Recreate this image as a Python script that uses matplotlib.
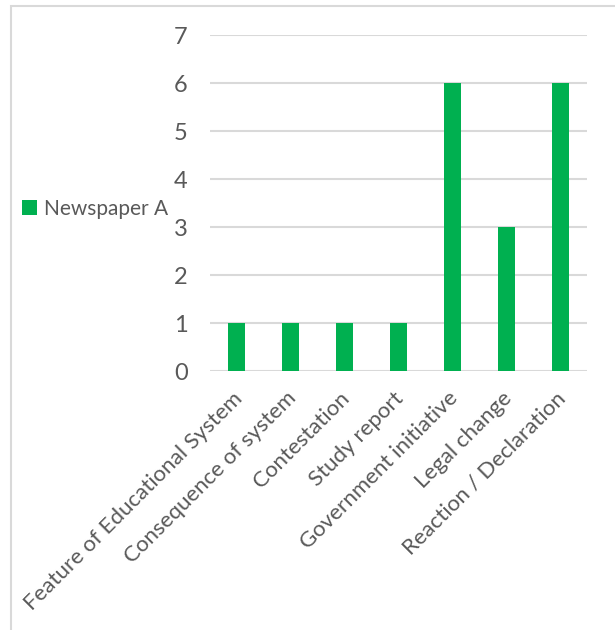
import matplotlib.pyplot as plt
from matplotlib.patches import Rectangle
from matplotlib.transforms import offset_copy

categories = ['Feature of Educational System', 'Consequence of system', 'Contestation',
              'Study report', 'Government initiative', 'Legal change', 'Reaction / Declaration']
newspaper_a = [1, 1, 1, 1, 6, 3, 6]
y_ticks = [0, 1, 2, 3, 4, 5, 6, 7]

plt.rcParams['font.family'] = ['Lato', 'DejaVu Sans']
text_gray = '#595959'
green = '#00B050'

fig = plt.figure(figsize=(6.15, 6.3), dpi=100)
fig.patch.set_facecolor('white')

# light frame around the chart area
fig.patches.append(Rectangle((10.5 / 615, -0.05), 1.1, 1 - 5.5 / 630 + 0.05,
                             transform=fig.transFigure, fill=False,
                             edgecolor='#D9D9D9', linewidth=1.5))

ax = fig.add_axes([210 / 615, 1 - 371 / 630, 377 / 615, 336 / 630])
x = list(range(len(categories)))
ax.bar(x, newspaper_a, width=0.315, color=green, zorder=3, label='Newspaper A')

ax.set_xlim(-0.5, len(categories) - 0.5)
ax.set_ylim(0, 7)
ax.set_yticks(y_ticks)
ax.yaxis.grid(True, color='#D9D9D9', linewidth=1.5, zorder=0)
for side in ['top', 'right', 'left', 'bottom']:
    ax.spines[side].set_visible(False)
ax.tick_params(axis='y', length=0, pad=16, labelsize=17, labelcolor=text_gray)
ax.tick_params(axis='x', length=0)
ax.set_xticks(x)
ax.set_xticklabels([])

# rotated category labels, right end just under each bar
for i, name in enumerate(categories):
    tr = offset_copy(ax.get_xaxis_transform(), fig=fig,
                     x=-5 * 0.72, y=-17 * 0.72, units='points')
    ax.text(i, 0, name, transform=tr, rotation=45, rotation_mode='anchor',
            ha='right', va='top', fontsize=16, color=text_gray)

fig.legend(loc='center left', bbox_to_anchor=(12 / 615, 1 - 209 / 630), frameon=False,
           fontsize=15, labelcolor=text_gray, handlelength=0.7, handleheight=0.7,
           handletextpad=0.35, borderpad=0)

fig.savefig('out.png', dpi=100, facecolor='white')
